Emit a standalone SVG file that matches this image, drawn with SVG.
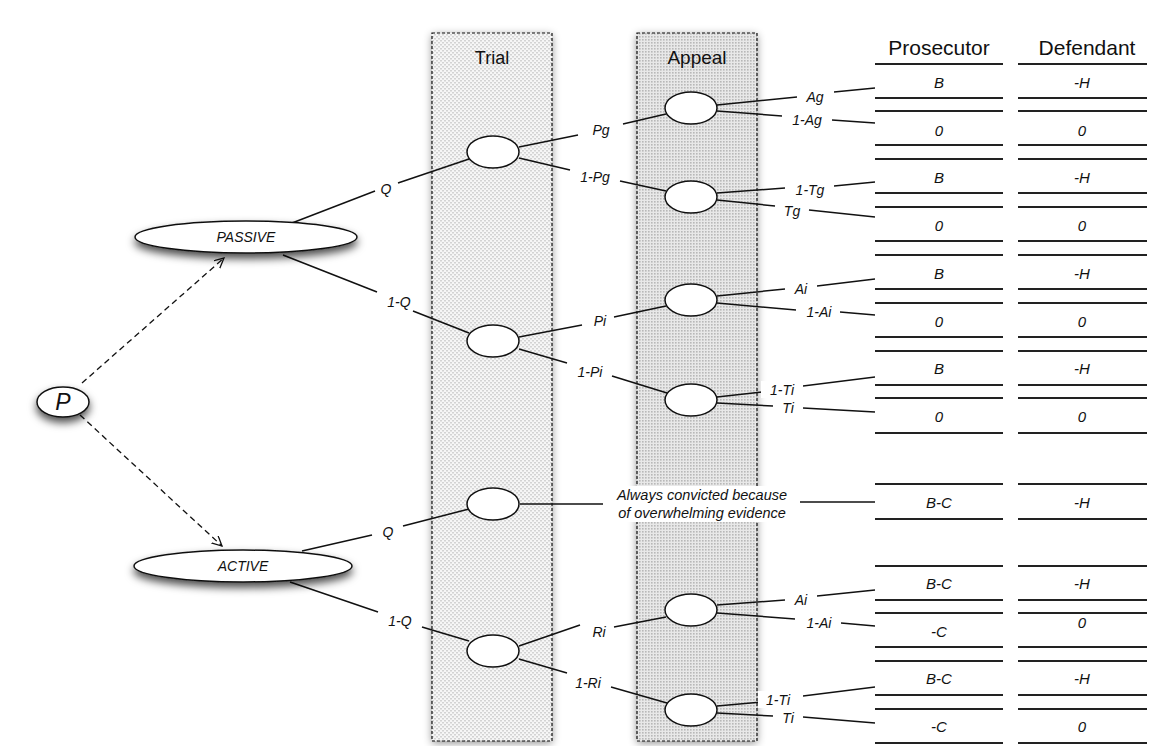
<svg xmlns="http://www.w3.org/2000/svg" width="1156" height="746" viewBox="0 0 1156 746">
<style>
.lbl{font-family:"Liberation Sans",Arial,sans-serif;font-style:italic;font-size:14px;fill:#111;text-anchor:middle}
.val{font-family:"Liberation Sans",Arial,sans-serif;font-style:italic;font-size:15px;fill:#111;text-anchor:middle}
.hdr{font-family:"Liberation Sans",Arial,sans-serif;font-size:21px;fill:#111;text-anchor:middle}
.col{font-family:"Liberation Sans",Arial,sans-serif;font-size:18px;fill:#111;text-anchor:middle}
.ln{stroke:#111;stroke-width:1.5;fill:none}
.tl{stroke:#222;stroke-width:2}
.nd{fill:#fff;stroke:#111;stroke-width:1.5}
.dash{stroke:#111;stroke-width:1.3;stroke-dasharray:6,4;fill:none}
.colbox{stroke:#111;stroke-width:1.2;stroke-dasharray:3,2}
.bg{fill:#fff}
</style>
<defs>
<pattern id="pTrial" width="4" height="4" patternUnits="userSpaceOnUse">
<rect width="4" height="4" fill="#f6f6f6"/>
<rect x="0" y="0" width="2" height="1.5" fill="#d3d3d3"/>
<rect x="2" y="2" width="2" height="1.5" fill="#d3d3d3"/>
</pattern>
<pattern id="pAppeal" width="3" height="3" patternUnits="userSpaceOnUse">
<rect width="3" height="3" fill="#e8e8e8"/>
<rect x="0" y="0" width="1.6" height="1.6" fill="#b8b8b8"/>
</pattern>
<filter id="sh" x="-20%" y="-50%" width="140%" height="220%">
<feDropShadow dx="0" dy="5" stdDeviation="4" flood-color="#000" flood-opacity="0.7"/>
</filter>
<filter id="csh" x="-20%" y="-5%" width="140%" height="110%">
<feDropShadow dx="0" dy="2" stdDeviation="4" flood-color="#000" flood-opacity="0.45"/>
</filter>
<marker id="arr" markerWidth="12" markerHeight="12" refX="10" refY="5" orient="auto" markerUnits="userSpaceOnUse">
<path d="M0,0 L10,5 L0,10" fill="none" stroke="#111" stroke-width="1.3"/>
</marker>
</defs>
<rect width="1156" height="746" fill="#fff"/>

<g id="trial-column">
<rect x="432" y="33" width="120" height="708" fill="url(#pTrial)" filter="url(#csh)"/>
<rect x="432" y="33" width="120" height="708" fill="none" class="colbox"/>
<text class="col" x="492" y="64">Trial</text>
</g>
<g id="appeal-column">
<rect x="637" y="33" width="120" height="708" fill="url(#pAppeal)" filter="url(#csh)"/>
<rect x="637" y="33" width="120" height="708" fill="none" class="colbox"/>
<text class="col" x="697" y="64" style="font-size:19px">Appeal</text>
</g>

<g id="connectors">
<line class="dash" x1="82" y1="383" x2="224" y2="258" marker-end="url(#arr)"/>
<line class="dash" x1="80" y1="415" x2="222" y2="546" marker-end="url(#arr)"/>
<line class="ln" x1="292" y1="223" x2="375" y2="191"/>
<line class="ln" x1="398" y1="183" x2="469" y2="159"/>
<line class="ln" x1="283" y1="255" x2="377" y2="292"/>
<line class="ln" x1="413" y1="311" x2="469" y2="333"/>
<line class="ln" x1="302" y1="551" x2="372" y2="535"/>
<line class="ln" x1="403" y1="526" x2="469" y2="509"/>
<line class="ln" x1="290" y1="582" x2="378" y2="612"/>
<line class="ln" x1="422" y1="627" x2="469" y2="641"/>
<line class="ln" x1="519" y1="147" x2="578" y2="135"/>
<line class="ln" x1="623" y1="124" x2="666" y2="114"/>
<line class="ln" x1="519" y1="158" x2="570" y2="170"/>
<line class="ln" x1="620" y1="181" x2="666" y2="191"/>
<line class="ln" x1="519" y1="337" x2="582" y2="325"/>
<line class="ln" x1="614" y1="317" x2="666" y2="306"/>
<line class="ln" x1="519" y1="349" x2="567" y2="363"/>
<line class="ln" x1="612" y1="376" x2="667" y2="393"/>
<line class="ln" x1="520" y1="504" x2="603" y2="504"/>
<line class="ln" x1="800" y1="502" x2="875" y2="502"/>
<line class="ln" x1="519" y1="646" x2="580" y2="625"/>
<line class="ln" x1="614" y1="627" x2="666" y2="617"/>
<line class="ln" x1="519" y1="659" x2="567" y2="673"/>
<line class="ln" x1="611" y1="687" x2="667" y2="703"/>
<line class="ln" x1="717" y1="105" x2="797" y2="97"/>
<line class="ln" x1="834" y1="92" x2="875" y2="88"/>
<line class="ln" x1="717" y1="111" x2="782" y2="116"/>
<line class="ln" x1="832" y1="120" x2="875" y2="123"/>
<line class="ln" x1="717" y1="193" x2="785" y2="188"/>
<line class="ln" x1="834" y1="186" x2="875" y2="182"/>
<line class="ln" x1="717" y1="200" x2="775" y2="206"/>
<line class="ln" x1="809" y1="210" x2="875" y2="217"/>
<line class="ln" x1="717" y1="296" x2="785" y2="289"/>
<line class="ln" x1="817" y1="286" x2="875" y2="279"/>
<line class="ln" x1="717" y1="303" x2="796" y2="310"/>
<line class="ln" x1="840" y1="312" x2="875" y2="315"/>
<line class="ln" x1="717" y1="397" x2="762" y2="392"/>
<line class="ln" x1="803" y1="386" x2="875" y2="377"/>
<line class="ln" x1="717" y1="403" x2="773" y2="406"/>
<line class="ln" x1="803" y1="408" x2="875" y2="412"/>
<line class="ln" x1="717" y1="605" x2="785" y2="600"/>
<line class="ln" x1="817" y1="596" x2="875" y2="590"/>
<line class="ln" x1="717" y1="613" x2="795" y2="619"/>
<line class="ln" x1="841" y1="623" x2="875" y2="626"/>
<line class="ln" x1="717" y1="706" x2="762" y2="702"/>
<line class="ln" x1="803" y1="696" x2="875" y2="687"/>
<line class="ln" x1="717" y1="713" x2="773" y2="716"/>
<line class="ln" x1="803" y1="717" x2="875" y2="723"/>
</g>

<g id="labels">
<text class="lbl" x="386" y="194">Q</text>
<text class="lbl" x="399" y="307">1-Q</text>
<text class="lbl" x="388" y="537">Q</text>
<text class="lbl" x="400" y="626">1-Q</text>
<text class="lbl" x="601" y="135">Pg</text>
<text class="lbl" x="595" y="182">1-Pg</text>
<text class="lbl" x="600" y="326">Pi</text>
<text class="lbl" x="590" y="377">1-Pi</text>
<text class="lbl" x="599" y="637">Ri</text>
<text class="lbl" x="588" y="688">1-Ri</text>
<text class="lbl" x="815" y="102">Ag</text>
<text class="lbl" x="807" y="125">1-Ag</text>
<text class="lbl" x="810" y="195">1-Tg</text>
<text class="lbl" x="792" y="216">Tg</text>
<text class="lbl" x="801" y="294">Ai</text>
<text class="lbl" x="819" y="317">1-Ai</text>
<rect class="bg" x="761" y="381" width="42" height="17"/>
<text class="lbl" x="782" y="395">1-Ti</text>
<rect class="bg" x="775" y="400" width="27" height="16"/>
<text class="lbl" x="788" y="413">Ti</text>
<rect class="bg" x="612" y="486" width="178" height="36"/>
<text class="lbl" x="702" y="500" style="font-size:14.5px">Always convicted because</text>
<text class="lbl" x="702" y="518" style="font-size:14.5px">of overwhelming evidence</text>
<text class="lbl" x="801" y="605">Ai</text>
<text class="lbl" x="819" y="628">1-Ai</text>
<rect class="bg" x="758" y="691" width="42" height="17"/>
<text class="lbl" x="778" y="705">1-Ti</text>
<rect class="bg" x="775" y="710" width="27" height="16"/>
<text class="lbl" x="788" y="723">Ti</text>
</g>

<g id="node-P"><ellipse class="nd" cx="63" cy="402" rx="26" ry="15" filter="url(#sh)"/><text x="63" y="410" style="font-family:'Liberation Sans',Arial,sans-serif;font-style:italic;font-size:23px;fill:#111;text-anchor:middle">P</text></g>
<g id="node-passive"><ellipse class="nd" cx="246" cy="237" rx="111" ry="16" filter="url(#sh)"/><text class="lbl" x="246" y="242">PASSIVE</text></g>
<g id="node-active"><ellipse class="nd" cx="243" cy="566" rx="109" ry="16" filter="url(#sh)"/><text class="lbl" x="243" y="571">ACTIVE</text></g>

<g id="node-trial1"><ellipse class="nd" cx="493" cy="152" rx="26" ry="16"/></g>
<g id="node-trial2"><ellipse class="nd" cx="493" cy="341" rx="26" ry="16"/></g>
<g id="node-trial3"><ellipse class="nd" cx="493" cy="504" rx="26" ry="16"/></g>
<g id="node-trial4"><ellipse class="nd" cx="493" cy="651" rx="26" ry="16"/></g>
<g id="node-appeal1"><ellipse class="nd" cx="691" cy="108" rx="26" ry="16"/></g>
<g id="node-appeal2"><ellipse class="nd" cx="691" cy="197" rx="26" ry="16"/></g>
<g id="node-appeal3"><ellipse class="nd" cx="691" cy="300" rx="26" ry="16"/></g>
<g id="node-appeal4"><ellipse class="nd" cx="691" cy="400" rx="26" ry="16"/></g>
<g id="node-appeal5"><ellipse class="nd" cx="691" cy="610" rx="26" ry="16"/></g>
<g id="node-appeal6"><ellipse class="nd" cx="691" cy="710" rx="26" ry="16"/></g>

<g id="payoff-table">
<text class="hdr" x="939" y="55">Prosecutor</text>
<text class="hdr" x="1087" y="55">Defendant</text>
<g class="tl">
<line x1="875" y1="64" x2="1003" y2="64"/><line x1="1018" y1="64" x2="1147" y2="64"/>
<line x1="875" y1="98" x2="1003" y2="98"/><line x1="1018" y1="98" x2="1147" y2="98"/>
<line x1="875" y1="111" x2="1003" y2="111"/><line x1="1018" y1="111" x2="1147" y2="111"/>
<line x1="875" y1="145" x2="1003" y2="145"/><line x1="1018" y1="145" x2="1147" y2="145"/>
<line x1="875" y1="159" x2="1003" y2="159"/><line x1="1018" y1="159" x2="1147" y2="159"/>
<line x1="875" y1="193" x2="1003" y2="193"/><line x1="1018" y1="193" x2="1147" y2="193"/>
<line x1="875" y1="207" x2="1003" y2="207"/><line x1="1018" y1="207" x2="1147" y2="207"/>
<line x1="875" y1="241" x2="1003" y2="241"/><line x1="1018" y1="241" x2="1147" y2="241"/>
<line x1="875" y1="255" x2="1003" y2="255"/><line x1="1018" y1="255" x2="1147" y2="255"/>
<line x1="875" y1="289" x2="1003" y2="289"/><line x1="1018" y1="289" x2="1147" y2="289"/>
<line x1="875" y1="303" x2="1003" y2="303"/><line x1="1018" y1="303" x2="1147" y2="303"/>
<line x1="875" y1="337" x2="1003" y2="337"/><line x1="1018" y1="337" x2="1147" y2="337"/>
<line x1="875" y1="351" x2="1003" y2="351"/><line x1="1018" y1="351" x2="1147" y2="351"/>
<line x1="875" y1="385" x2="1003" y2="385"/><line x1="1018" y1="385" x2="1147" y2="385"/>
<line x1="875" y1="398" x2="1003" y2="398"/><line x1="1018" y1="398" x2="1147" y2="398"/>
<line x1="875" y1="433" x2="1003" y2="433"/><line x1="1018" y1="433" x2="1147" y2="433"/>
<line x1="875" y1="484" x2="1003" y2="484"/><line x1="1018" y1="484" x2="1147" y2="484"/>
<line x1="875" y1="519" x2="1003" y2="519"/><line x1="1018" y1="519" x2="1147" y2="519"/>
<line x1="875" y1="566" x2="1003" y2="566"/><line x1="1018" y1="566" x2="1147" y2="566"/>
<line x1="875" y1="600" x2="1003" y2="600"/><line x1="1018" y1="600" x2="1147" y2="600"/>
<line x1="875" y1="613" x2="1003" y2="613"/><line x1="1018" y1="613" x2="1147" y2="613"/>
<line x1="875" y1="647" x2="1003" y2="647"/><line x1="1018" y1="647" x2="1147" y2="647"/>
<line x1="875" y1="661" x2="1003" y2="661"/><line x1="1018" y1="661" x2="1147" y2="661"/>
<line x1="875" y1="695" x2="1003" y2="695"/><line x1="1018" y1="695" x2="1147" y2="695"/>
<line x1="875" y1="709" x2="1003" y2="709"/><line x1="1018" y1="709" x2="1147" y2="709"/>
<line x1="875" y1="743" x2="1003" y2="743"/><line x1="1018" y1="743" x2="1147" y2="743"/>
</g>
<text class="val" x="939" y="88">B</text><text class="val" x="1082" y="88">-H</text>
<text class="val" x="939" y="136">0</text><text class="val" x="1082" y="136">0</text>
<text class="val" x="939" y="183">B</text><text class="val" x="1082" y="183">-H</text>
<text class="val" x="939" y="231">0</text><text class="val" x="1082" y="231">0</text>
<text class="val" x="939" y="279">B</text><text class="val" x="1082" y="279">-H</text>
<text class="val" x="939" y="327">0</text><text class="val" x="1082" y="327">0</text>
<text class="val" x="939" y="374">B</text><text class="val" x="1082" y="374">-H</text>
<text class="val" x="939" y="422">0</text><text class="val" x="1082" y="422">0</text>
<text class="val" x="939" y="508">B-C</text><text class="val" x="1082" y="508">-H</text>
<text class="val" x="939" y="589">B-C</text><text class="val" x="1082" y="589">-H</text>
<text class="val" x="939" y="637">-C</text><text class="val" x="1082" y="628">0</text>
<text class="val" x="939" y="684">B-C</text><text class="val" x="1082" y="684">-H</text>
<text class="val" x="939" y="732">-C</text><text class="val" x="1082" y="732">0</text>
</g>
</svg>
